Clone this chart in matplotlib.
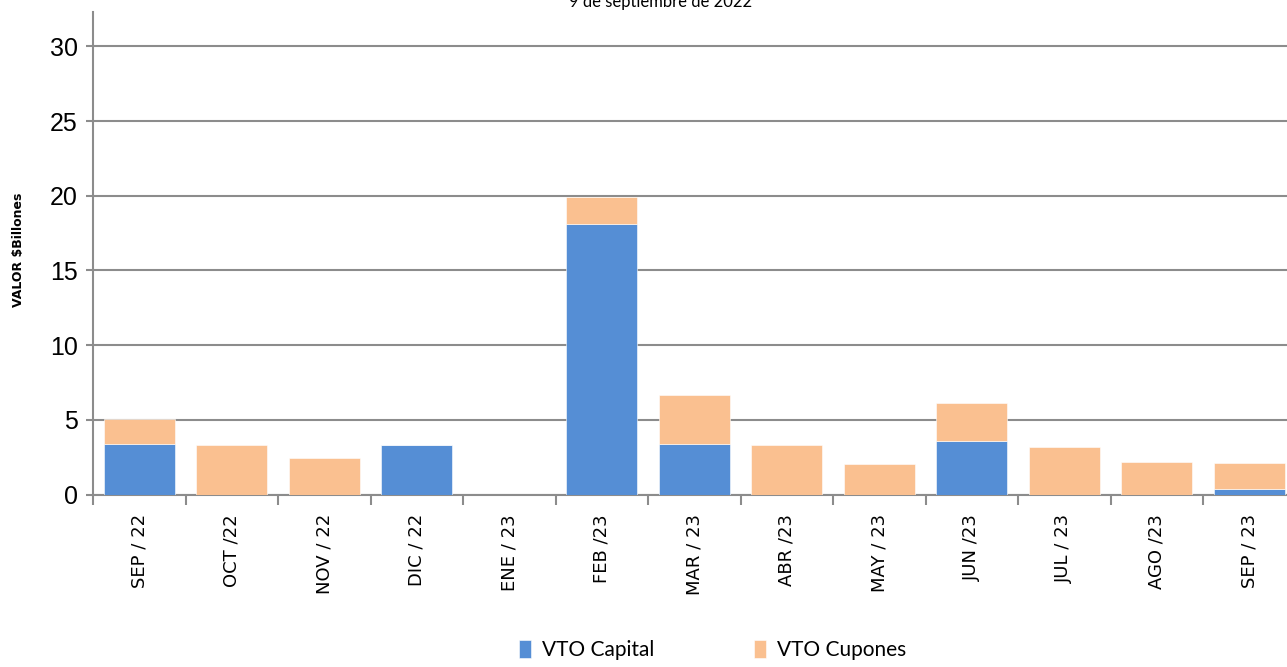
import matplotlib.pyplot as plt
import numpy as np

# vencimientos mensuales, en billones
meses = ['SEP / 22', 'OCT /22', 'NOV / 22', 'DIC / 22', 'ENE / 23', 'FEB /23',
         'MAR / 23', 'ABR /23', 'MAY / 23', 'JUN /23', 'JUL / 23', 'AGO /23',
         'SEP / 23']
capital = [3.40, 0, 0, 3.31, 0, 18.12, 3.38, 0, 0, 3.58, 0, 0, 0.37]
cupones = [1.66, 3.31, 2.44, 0, 0, 1.78, 3.26, 3.34, 2.04, 2.55, 3.18, 2.18, 1.73]

azul = '#558ED5'
naranja = '#FAC090'
gris = '#8C8C8C'

fig = plt.figure(figsize=(12.87, 6.67), dpi=100)
ax = fig.add_axes([0.0723, 0.2586, 0.9344, 0.7235])

x = np.arange(len(meses))
ax.bar(x, capital, width=0.77, color=azul, edgecolor='white', linewidth=0.4,
       label='VTO Capital', zorder=3)
ax.bar(x, cupones, width=0.77, bottom=capital, color=naranja, edgecolor='white',
       linewidth=0.4, label='VTO Cupones', zorder=3)

ax.set_xlim(-0.5, len(meses) - 0.5)
ax.set_ylim(0, 32.3)
ax.set_yticks([0, 5, 10, 15, 20, 25, 30])
ax.yaxis.grid(True, color=gris, linewidth=1.5, zorder=0)
ax.set_axisbelow(True)

for s in ['top', 'right']:
    ax.spines[s].set_visible(False)
ax.spines['left'].set_color(gris)
ax.spines['left'].set_linewidth(1.5)
ax.spines['bottom'].set_color(gris)
ax.spines['bottom'].set_linewidth(1.5)

ax.tick_params(axis='y', length=5, width=1.5, color=gris, pad=6)
for lbl in ax.get_yticklabels():
    lbl.set_family('Liberation Sans')
    lbl.set_fontsize(18)

# etiquetas en el centro y marcas entre categorias
ax.set_xticks(x)
ax.set_xticklabels(meses, rotation=90, fontsize=13, family='DejaVu Sans')
ax.set_xticks(np.arange(-0.5, len(meses), 1), minor=True)
ax.tick_params(axis='x', which='major', length=0, pad=14)
ax.tick_params(axis='x', which='minor', length=7, width=1.5, color=gris)

fig.text(0.0145, 0.625, 'VALOR $Billones', rotation=90, ha='center', va='center',
         fontsize=9, fontweight='bold', family='DejaVu Sans')

fig.text(0.513, 1 - 7 / 667, '9 de septiembre de 2022', ha='center',
         va='baseline', fontsize=12, family='Lato')

fig.legend(loc='center', bbox_to_anchor=(0.5536, 0.026), ncol=2, frameon=False,
           prop={'family': 'Lato', 'size': 15}, handlelength=0.58,
           handleheight=0.95, handletextpad=0.53, columnspacing=4.8)

fig.savefig('out.png', dpi=100)
